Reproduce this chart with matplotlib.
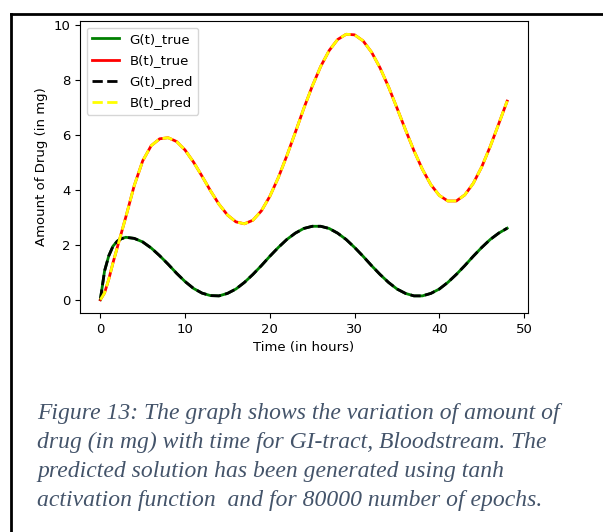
import matplotlib.pyplot as plt
from matplotlib.lines import Line2D

# values (hours, mg)
t_vals = [0, 0.5, 1, 1.5, 2, 2.5, 3, 4, 5, 6, 7, 8, 9, 10, 11, 12, 13, 14, 15,
          16, 17, 18, 19, 20, 21, 22, 23, 24, 25, 26, 27, 28, 29, 30, 31, 32,
          33, 34, 35, 36, 37, 38, 39, 40, 41, 42, 43, 44, 45, 46, 47, 48]

g_vals = [0.0, 1.05, 1.6, 1.95, 2.13, 2.22, 2.27, 2.23, 2.10, 1.88, 1.60, 1.29,
          0.96, 0.66, 0.41, 0.24, 0.15, 0.14, 0.23, 0.39, 0.63, 0.92, 1.24,
          1.58, 1.90, 2.19, 2.42, 2.59, 2.67, 2.67, 2.59, 2.42, 2.19, 1.90,
          1.58, 1.24, 0.92, 0.63, 0.39, 0.23, 0.14, 0.14, 0.23, 0.39, 0.63,
          0.92, 1.24, 1.58, 1.90, 2.19, 2.42, 2.60]

b_vals = [0.0, 0.25, 0.75, 1.35, 1.9, 2.45, 3.0, 4.15, 5.05, 5.6, 5.85, 5.89,
          5.75, 5.44, 5.0, 4.49, 3.96, 3.47, 3.08, 2.83, 2.76, 2.89, 3.23,
          3.76, 4.44, 5.23, 6.08, 6.95, 7.76, 8.48, 9.06, 9.46, 9.65, 9.63,
          9.41, 9.0, 8.43, 7.74, 6.97, 6.18, 5.42, 4.74, 4.18, 3.79, 3.59,
          3.59, 3.81, 4.23, 4.83, 5.57, 6.39, 7.22]

caption = [
    "Figure 13: The graph shows the variation of amount of",
    "drug (in mg) with time for GI-tract, Bloodstream. The",
    "predicted solution has been generated using tanh",
    "activation function  and for 80000 number of epochs.",
]

W, H = 603, 532
fig = plt.figure(figsize=(W / 100, H / 100), dpi=100)
ax = fig.add_axes([80 / W, 1 - 313 / H, 447.5 / W, 292 / H])

ax.plot(t_vals, g_vals, color='green', lw=2, label='G(t)_true')
ax.plot(t_vals, b_vals, color='red', lw=2, label='B(t)_true')
ax.plot(t_vals, g_vals, color='black', lw=2, linestyle='--', label='G(t)_pred')
ax.plot(t_vals, b_vals, color='yellow', lw=2, linestyle='--', label='B(t)_pred')

ax.set_xticks([0, 10, 20, 30, 40, 50])
ax.set_yticks([0, 2, 4, 6, 8, 10])
ax.tick_params(labelsize=9.5)
ax.set_xlabel('Time (in hours)', fontsize=9.5)
ax.set_ylabel('Amount of Drug (in mg)', fontsize=9.5)
ax.legend(loc='upper left', fontsize=9.6, labelspacing=0.62)

# page frame
fig.add_artist(Line2D([11 / W, 1.0], [1 - 14 / H] * 2, color='black', lw=2))
fig.add_artist(Line2D([11 / W] * 2, [0, 1 - 14 / H], color='black', lw=2))

for i, line in enumerate(caption):
    fig.text(37 / W, 1 - (413 + 29.3 * i) / H, line, fontsize=17,
             family='Liberation Serif', style='italic', color='#44546A',
             va='center', ha='left')

fig.savefig('out.png', dpi=100)
